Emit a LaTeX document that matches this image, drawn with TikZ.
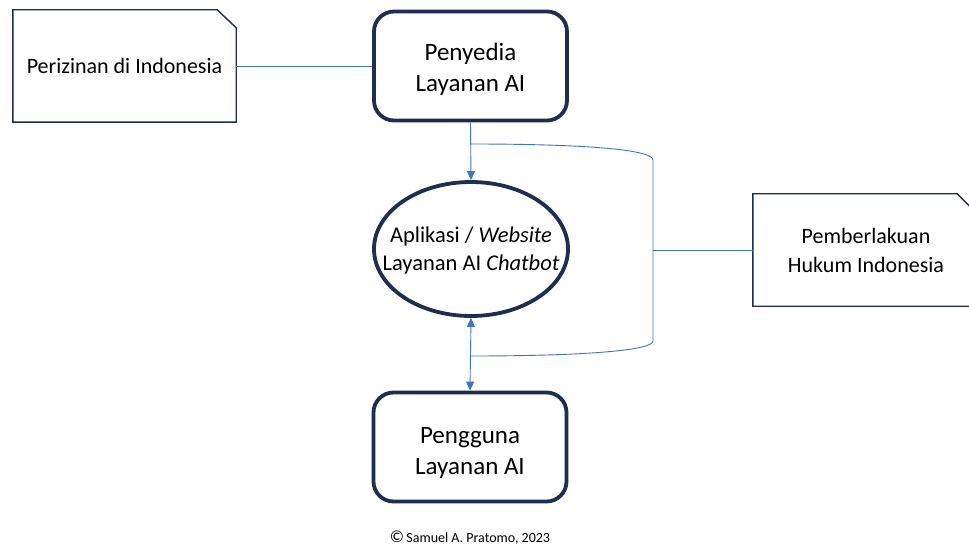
\documentclass[tikz,border=0pt]{standalone}
\usepackage{fontspec}
\setmainfont{Carlito}
\usetikzlibrary{shapes.geometric,arrows.meta}
\definecolor{navy}{HTML}{1F2D50}
\definecolor{conn}{HTML}{4472C4}
\tikzset{
  notebox/.style={draw=none,minimum width=223pt,minimum height=112pt,inner sep=0pt,align=center,font=\fontsize{22}{29}\selectfont},
  noteline/.style={draw=navy,line width=1.4pt},
  mainbox/.style={draw=navy,line width=3.8pt,rounded corners=20pt,minimum width=193pt,minimum height=109pt},
  boxtext/.style={align=center,font=\fontsize{25}{31}\selectfont},
  appell/.style={draw=navy,line width=3.8pt,ellipse,minimum width=194pt,minimum height=134pt,inner sep=0pt},
  apptext/.style={align=center,font=\fontsize{22.5}{28}\selectfont},
  connline/.style={draw=conn,line width=0.9pt},
  tip/.style={-{Triangle[length=9pt,width=8pt]}},
  tips/.style={{Triangle[length=9pt,width=8pt]}-{Triangle[length=9pt,width=8pt]}}
}
\begin{document}
\begin{tikzpicture}[x=1pt,y=-1pt]
\useasboundingbox (0,0) rectangle (969,548);
\fill[white] (0,0) rectangle (969,548);
% left note
\node[notebox] (izin) at (124.5,66) {Perizinan di Indonesia};
\draw[noteline] (izin.south west) -- (izin.north west) -- ([xshift=-19pt]izin.north east) -- ([yshift=-18pt]izin.north east) -- (izin.south east) -- cycle;
% provider
\node[mainbox,label={[boxtext,yshift=-3.5pt]center:{Penyedia\\Layanan AI}}] (peny) at (470.5,66) {};
% app
\node[appell,label={[apptext,yshift=-2pt]center:{Aplikasi / \textit{Website}\\Layanan AI \textit{Chatbot}}}] (app) at (471,249) {};
% user
\node[mainbox,label={[boxtext,yshift=-6pt]center:{Pengguna\\Layanan AI}}] (user) at (470,447) {};
% right note
\node[notebox,minimum width=226pt] (hukum) at (866,250) {Pemberlakuan\\Hukum Indonesia};
\begin{scope}
\clip (0,0) rectangle (969,548);
\draw[noteline] (hukum.south west) -- (hukum.north west) -- ([xshift=-22pt]hukum.north east) -- ([yshift=-22pt]hukum.north east) -- (hukum.south east) -- cycle;
\end{scope}
% connectors
\draw[connline] (izin.east) -- (peny.west);
\draw[connline,tip] (peny.south) -- (app.north);
\draw[connline,tips] (app.south) -- (user.north);
\coordinate (bt) at (470,144);
\coordinate (bb) at (470,356);
\coordinate (bm) at (653,250);
\draw[connline] (bt) .. controls (590,144) and (653,150) .. (653,160) -- (653,341) .. controls (653,350) and (590,356) .. (bb);
\draw[connline] (bm) -- (hukum.west);
% credit
\node[font=\fontsize{14}{16}\selectfont] (credit) at (470,538) {{\fontsize{17}{16}\selectfont ©}\,Samuel A. Pratomo, 2023};
\end{tikzpicture}
\end{document}
